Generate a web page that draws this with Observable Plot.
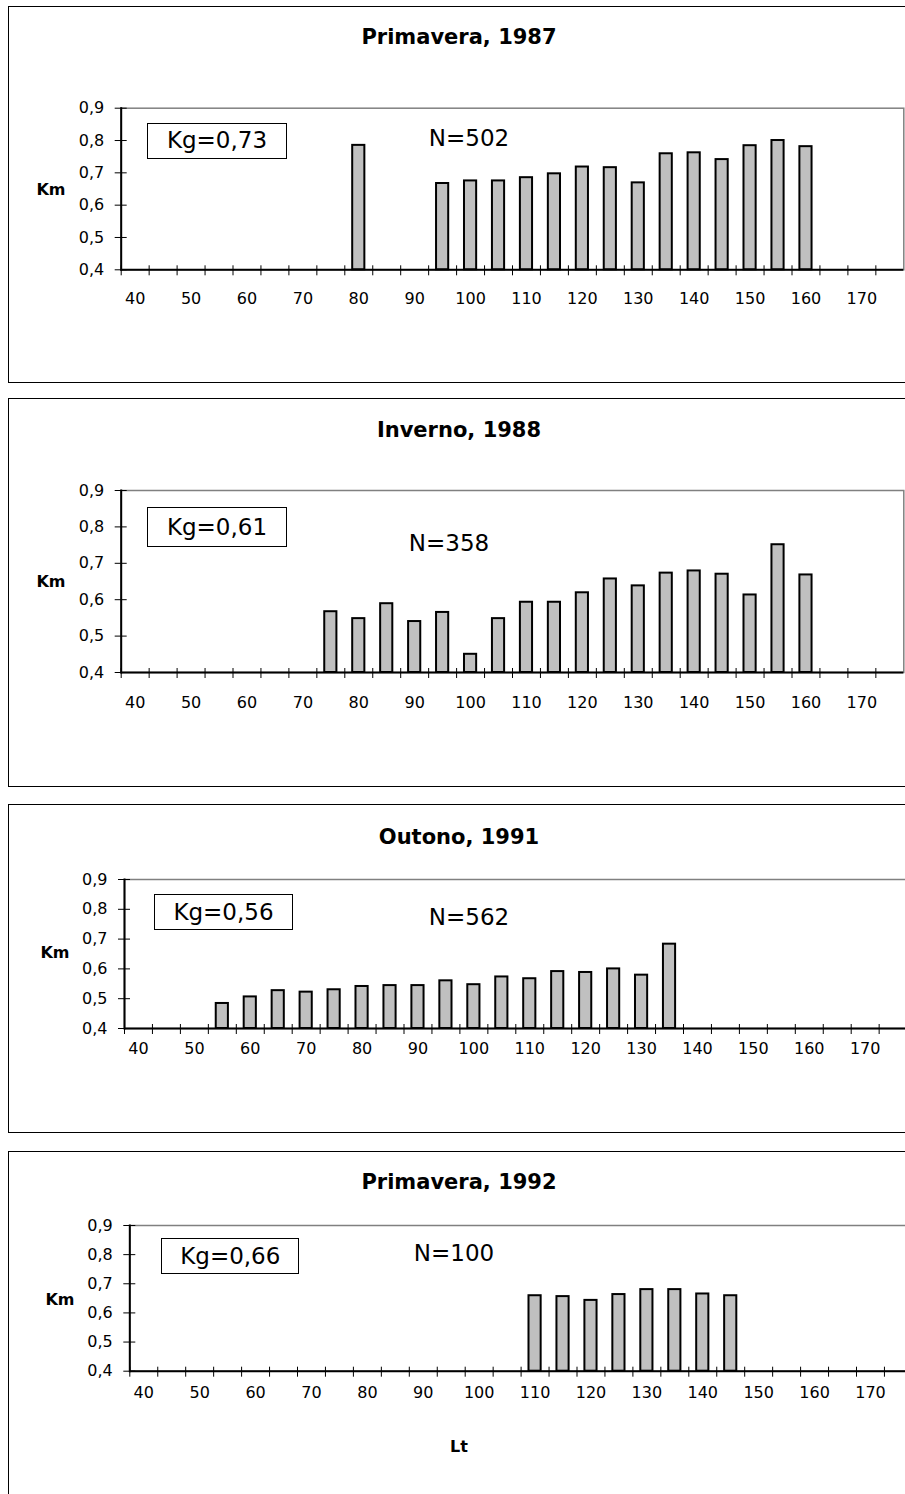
<!DOCTYPE html>
<html>
<head>
<meta charset="utf-8">
<script src="https://cdn.jsdelivr.net/npm/d3@7"></script>
<script src="https://cdn.jsdelivr.net/npm/@observablehq/plot@0.6"></script>
<style>
  html, body { margin: 0; padding: 0; background: #fff; }
  body { width: 905px; height: 1494px; overflow: hidden; position: relative; font-family: "DejaVu Sans", sans-serif; color: #000; }
  .panel { position: absolute; left: 8px; width: 1000px; border: 1.5px solid #000; box-sizing: border-box; }
  svg.chart { position: absolute; left: 0; max-width: none !important; height: auto; }
  .ctext { position: absolute; white-space: nowrap; line-height: 1; transform: translate(-50%, -50%); }
  .title { font-weight: bold; font-size: 21px; }
  .axlab { font-weight: bold; font-size: 16px; }
  .note { font-size: 23px; }
  .kgbox { position: absolute; border: 1.5px solid #000; box-sizing: border-box; background: #fff;
           display: flex; align-items: center; justify-content: center; font-size: 23px; line-height: 1; }
</style>
</head>
<body>
<script>
// ---------------- data ----------------
const categories = [40, 45, 50, 55, 60, 65, 70, 75, 80, 85, 90, 95, 100, 105, 110, 115, 120, 125, 130, 135, 140, 145, 150, 155, 160, 165, 170, 175];
const xTickLabels = [40, 50, 60, 70, 80, 90, 100, 110, 120, 130, 140, 150, 160, 170];
const yTicks = [0.4, 0.5, 0.6, 0.7, 0.8, 0.9];

const titles = ["Primavera, 1987", "Inverno, 1988", "Outono, 1991", "Primavera, 1992"];
const kgLabels = ["Kg=0,73", "Kg=0,61", "Kg=0,56", "Kg=0,66"];
const nLabels = ["N=502", "N=358", "N=562", "N=100"];
const yLabel = "Km";
const xLabel = "Lt";

const lt1987 = [80, 95, 100, 105, 110, 115, 120, 125, 130, 135, 140, 145, 150, 155, 160];
const km1987 = [0.785, 0.667, 0.675, 0.675, 0.685, 0.697, 0.718, 0.716, 0.669, 0.759, 0.762, 0.741, 0.784, 0.800, 0.781];

const lt1988 = [75, 80, 85, 90, 95, 100, 105, 110, 115, 120, 125, 130, 135, 140, 145, 150, 155, 160];
const km1988 = [0.567, 0.548, 0.589, 0.540, 0.565, 0.450, 0.548, 0.593, 0.593, 0.619, 0.657, 0.638, 0.673, 0.679, 0.670, 0.613, 0.751, 0.668];

const lt1991 = [55, 60, 65, 70, 75, 80, 85, 90, 95, 100, 105, 110, 115, 120, 125, 130, 135];
const km1991 = [0.484, 0.506, 0.527, 0.522, 0.530, 0.541, 0.544, 0.544, 0.560, 0.547, 0.573, 0.567, 0.591, 0.588, 0.600, 0.579, 0.683];

const lt1992 = [110, 115, 120, 125, 130, 135, 140, 145];
const km1992 = [0.659, 0.656, 0.643, 0.663, 0.680, 0.680, 0.665, 0.659];

const series = [[lt1987, km1987], [lt1988, km1988], [lt1991, km1991], [lt1992, km1992]];

// ---------------- layout (page pixels) ----------------
const layout = [
  {top: 6, bottom: 383, plotTop: 107.7, plotBottom: 269.3, plotLeft: 120.7, xPad: 22.7, titleY: 36.7,
   km: [51, 190], kg: [146.7, 287.3, 122.7, 159], n: [469, 138.3]},
  {top: 398, bottom: 787, plotTop: 490, plotBottom: 672, plotLeft: 120.7, xPad: 24.1, titleY: 430,
   km: [51, 581.7], kg: [147, 287, 507.3, 547], n: [449, 543.3]},
  {top: 804, bottom: 1132.5, plotTop: 879, plotBottom: 1028, plotLeft: 124, xPad: 14.4, titleY: 836.7,
   km: [55, 953.3], kg: [153.7, 293.3, 894, 930], n: [469, 916.7]},
  {top: 1151, bottom: 1530, plotTop: 1225, plotBottom: 1370.7, plotLeft: 129.3, xPad: 15.4, titleY: 1181.7,
   km: [60, 1300], kg: [161.3, 299.3, 1238.3, 1274], n: [454, 1253.3], lt: [459, 1446.7]}
];

const svgWidth = 1000;
const step = 27.95;
const plotWidth = step * categories.length;
const fmt = d => d.toFixed(1).replace(".", ",");

function addText(cls, txt, x, y) {
  const el = document.createElement("div");
  el.className = "ctext " + cls;
  el.textContent = txt;
  el.style.left = x + "px";
  el.style.top = y + "px";
  document.body.appendChild(el);
}

layout.forEach((L, i) => {
  const [lts, kms] = series[i];
  const rows = lts.map((lt, j) => ({lt, km: kms[j]}));

  const border = document.createElement("div");
  border.className = "panel";
  border.style.top = L.top + "px";
  border.style.height = (L.bottom - L.top) + "px";
  document.body.appendChild(border);

  const h = L.bottom - L.top;
  const chart = Plot.plot({
    width: svgWidth,
    height: h,
    marginTop: L.plotTop - L.top,
    marginBottom: L.bottom - L.plotBottom,
    marginLeft: L.plotLeft,
    marginRight: svgWidth - L.plotLeft - plotWidth,
    style: {fontFamily: "DejaVu Sans, sans-serif", fontSize: "16px", color: "#000", background: "transparent", overflow: "visible", maxWidth: "none"},
    x: {type: "band", domain: categories, paddingInner: 0.565, paddingOuter: 0.2825, round: false, axis: null},
    y: {domain: [yTicks[0], yTicks[yTicks.length - 1]], axis: null},
    marks: [
      Plot.frame({stroke: "#808080", strokeWidth: 1.5}),
      Plot.barY(rows, {x: "lt", y1: () => yTicks[0], y2: "km", fill: "#c0c0c0", stroke: "#000", strokeWidth: 2}),
      Plot.axisY({ticks: yTicks, tickSize: 12, dx: 6, fill: "none", stroke: "#000", label: null}),
      Plot.axisY({ticks: yTicks, tickSize: 0, tickPadding: 17, tickFormat: fmt, fill: "#000", label: null}),
      Plot.axisX({ticks: categories, tickSize: 10, dx: -step / 2, dy: -4, fill: "none", stroke: "#000", label: null}),
      Plot.axisX({ticks: xTickLabels, tickSize: 0, tickPadding: L.xPad, tickFormat: d => String(d), fill: "#000", label: null}),
      Plot.ruleY([yTicks[0]], {stroke: "#000", strokeWidth: 2}),
      Plot.frame({anchor: "left", stroke: "#000", strokeWidth: 2})
    ]
  });
  chart.classList.add("chart");
  chart.style.top = L.top + "px";
  chart.style.maxWidth = "none";
  chart.setAttribute("width", svgWidth);
  document.body.appendChild(chart);

  addText("title", titles[i], 459, L.titleY);
  addText("axlab", yLabel, L.km[0], L.km[1]);
  addText("note", nLabels[i], L.n[0], L.n[1]);
  if (L.lt) addText("axlab", xLabel, L.lt[0], L.lt[1]);

  const box = document.createElement("div");
  box.className = "kgbox";
  box.textContent = kgLabels[i];
  box.style.left = L.kg[0] + "px";
  box.style.top = L.kg[2] + "px";
  box.style.width = (L.kg[1] - L.kg[0]) + "px";
  box.style.height = (L.kg[3] - L.kg[2]) + "px";
  document.body.appendChild(box);
});
</script>
</body>
</html>
